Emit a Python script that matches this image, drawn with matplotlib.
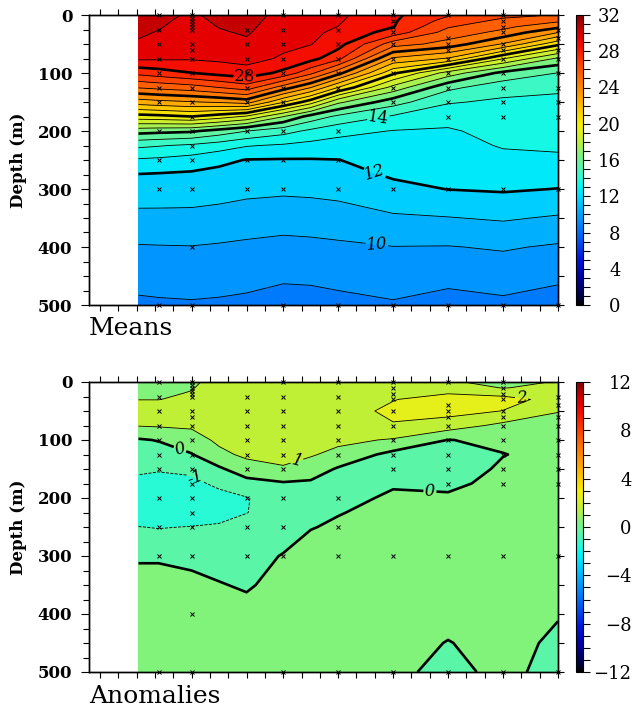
import numpy as np
import matplotlib
matplotlib.use("Agg")
import matplotlib.pyplot as plt
from matplotlib.colors import LinearSegmentedColormap, Normalize
from matplotlib.ticker import MultipleLocator, NullFormatter

plt.rcParams.update({
    "font.family": "DejaVu Serif",
    "axes.linewidth": 1.0,
})

# grid: x positions of the gridded columns and standard depths (m)
x_cols = [2.1, 3.2, 5, 6.5, 8, 10, 11.5, 13, 16, 19, 22, 25]
depths = [0, 10, 20, 30, 50, 75, 100, 125, 150, 175, 200, 225, 250, 275, 300, 350, 400, 450, 500]

# mean temperature profiles, one list per column (values at `depths`)
mean_cols = [
    [30.3, 30.24, 30.17, 30.11, 29.91, 29.18, 27.29, 25.07, 22.51, 19.61, 16.39, 14.20, 12.88, 11.97, 11.55, 10.72, 9.93, 9.37, 8.81],
    [30.2, 30.13, 30.06, 29.96, 29.6, 29.15, 27.55, 25.27, 22.71, 19.72, 16.28, 14.07, 12.8, 11.92, 11.52, 10.73, 9.95, 9.40, 8.86],
    [29.9, 29.8, 29.7, 29.6, 29.37, 29.1, 27.98, 25.56, 22.94, 20.0, 16.15, 13.83, 12.58, 11.84, 11.48, 10.73, 9.97, 9.44, 8.9],
    [30.2, 30.12, 30.03, 29.91, 29.59, 29.2, 28.33, 26.0, 23.14, 19.5, 15.6, 13.5, 12.23, 11.73, 11.38, 10.65, 9.90, 9.38, 8.86],
    [30.4, 30.3, 30.2, 30.1, 29.82, 29.33, 28.6, 26.51, 23.45, 18.86, 15.02, 13.07, 11.96, 11.61, 11.26, 10.51, 9.82, 9.31, 8.78],
    [29.7, 29.6, 29.5, 29.41, 29.21, 28.88, 27.74, 24.52, 21.10, 17.04, 14.38, 12.87, 11.93, 11.56, 11.19, 10.41, 9.72, 9.15, 8.59],
    [29.45, 29.37, 29.29, 29.2, 29.04, 28.35, 26.25, 23.03, 19.48, 15.62, 13.79, 12.68, 11.94, 11.59, 11.23, 10.46, 9.76, 9.18, 8.62],
    [29.2, 29.1, 28.99, 28.8, 28.39, 27.29, 24.35, 20.97, 17.23, 14.79, 13.33, 12.58, 11.98, 11.65, 11.31, 10.56, 9.83, 9.28, 8.72],
    [28.2, 28.12, 28.05, 27.58, 25.47, 22.84, 20.21, 17.64, 15.44, 13.88, 12.96, 12.68, 12.4, 12.12, 11.75, 10.86, 9.98, 9.45, 8.9],
    [27.1, 26.63, 26.1, 25.6, 24.62, 21.91, 17.57, 15.24, 14.09, 13.36, 12.89, 12.68, 12.46, 12.24, 12.02, 10.96, 9.96, 9.26, 8.66],
    [26.3, 25.75, 25.25, 24.72, 22.92, 19.08, 15.72, 14.4, 13.83, 13.58, 13.32, 13.07, 12.76, 12.43, 12.11, 11.11, 10.1, 9.42, 8.8],
    [25.95, 25.17, 24.27, 23.03, 20.28, 16.83, 14.98, 14.14, 13.81, 13.59, 13.37, 13.14, 12.84, 12.41, 11.98, 10.89, 9.88, 9.18, 8.59],
]

# temperature anomaly profiles, one list per column
anom_cols = [
    [0.8, 0.87, 0.93, 0.99, 1.25, 1.05, -0.1, -0.5, -0.8, -1.3, -1.8, -1.7, -0.98, -0.6, -0.1, 0.3, 0.4, 0.4, 0.4],
    [0.85, 0.9, 0.95, 0.99, 1.25, 1.1, 0.05, -0.45, -0.9, -1.4, -1.9, -1.8, -1.05, -0.6, -0.1, 0.3, 0.4, 0.4, 0.4],
    [0.95, 0.98, 1.02, 1.1, 1.3, 1.15, 0.55, -0.05, -0.75, -1.3, -1.7, -1.6, -0.97, -0.5, -0.25, 0.25, 0.4, 0.4, 0.4],
    [1.1, 1.15, 1.2, 1.25, 1.35, 1.3, 1.2, 0.75, -0.15, -0.75, -1.4, -1.3, -0.9, -0.6, -0.35, 0.05, 0.4, 0.45, 0.4],
    [1.3, 1.35, 1.4, 1.45, 1.5, 1.5, 1.4, 1.2, 0.55, -0.35, -1.05, -1.02, -0.7, -0.5, -0.35, -0.1, 0.3, 0.4, 0.4],
    [1.5, 1.55, 1.6, 1.6, 1.6, 1.6, 1.5, 1.3, 0.9, -0.1, -0.5, -0.6, -0.55, -0.2, 0.05, 0.3, 0.4, 0.4, 0.4],
    [1.55, 1.6, 1.6, 1.6, 1.6, 1.6, 1.4, 1.1, 0.5, -0.15, -0.35, -0.3, -0.05, 0.2, 0.3, 0.35, 0.4, 0.4, 0.4],
    [1.5, 1.6, 1.65, 1.7, 1.7, 1.6, 1.25, 0.7, -0.1, -0.35, -0.3, -0.05, 0.15, 0.3, 0.35, 0.35, 0.4, 0.4, 0.4],
    [1.6, 1.7, 1.85, 1.97, 2.15, 1.95, 0.9, -0.3, -0.35, -0.1, 0.15, 0.3, 0.35, 0.35, 0.35, 0.35, 0.35, 0.3, 0.2],
    [1.06, 1.65, 1.99, 2.3, 2.35, 1.5, -0.02, -0.3, -0.35, -0.15, 0.1, 0.25, 0.3, 0.3, 0.3, 0.3, 0.25, -0.03, -0.25],
    [0.85, 0.95, 1.75, 2.3, 1.98, 0.75, 0.15, -0.02, 0.1, 0.2, 0.3, 0.3, 0.3, 0.3, 0.3, 0.3, 0.3, 0.28, 0.23],
    [1.03, 1.35, 1.6, 1.7, 1.05, 0.55, 0.3, 0.2, 0.25, 0.3, 0.3, 0.3, 0.3, 0.3, 0.3, 0.25, 0.05, -0.15, -0.3],
]

# observation stations and the depths sampled at each
stations = [3.2, 5, 8, 10, 13, 16, 19, 22, 25]
station_depths = [
    [0, 25, 50, 75, 100, 125, 150, 200, 250, 300, 500],
    [0, 5, 10, 15, 20, 25, 50, 60, 75, 100, 125, 150, 175, 200, 225, 250, 300, 400, 500],
    [25, 50, 75, 100, 125, 150, 200, 250, 300],
    [0, 25, 50, 75, 100, 125, 150, 200, 250, 300, 500],
    [0, 25, 50, 75, 100, 125, 200, 250, 300, 500],
    [0, 10, 20, 30, 50, 75, 100, 125, 150, 300, 500],
    [0, 40, 50, 60, 75, 100, 125, 150, 175, 300, 500],
    [0, 10, 20, 30, 50, 60, 75, 100, 125, 150, 175, 300, 500],
    [25, 40, 60, 75, 100, 125, 150, 175, 300, 500],
]

# contour labels: level -> label positions (x, depth)
mean_labels = {28: [(7.9, 109)], 14: [(15.2, 178)], 12: [(15.0, 272)], 10: [(15.1, 400)]}
anom_labels = {0: [(4.4, 112), (18.0, 195)], 1: [(10.8, 143)], -1: [(5.1, 172)], 2: [(23.0, 30)]}

# colour table, Ferret-like (positions on a 0..32 scale)
cmap_nodes = [
    (0, (0, 0, 0)), (1, (0, 0, 70)), (3, (0, 0, 160)), (5, (0, 20, 220)),
    (7, (0, 80, 245)), (9, (0, 135, 255)), (10.5, (0, 175, 255)), (12, (0, 220, 255)),
    (13, (0, 245, 245)), (14, (40, 250, 215)), (15.3, (90, 245, 170)), (16.7, (130, 242, 120)),
    (18, (190, 240, 55)), (19.3, (228, 240, 28)), (20, (245, 240, 0)), (21.5, (255, 200, 0)),
    (23, (255, 160, 0)), (25, (255, 110, 0)), (27, (255, 55, 0)), (28.5, (245, 15, 0)),
    (29.5, (230, 0, 0)), (30.5, (200, 0, 0)), (32, (130, 0, 0)),
]
cmap = LinearSegmentedColormap.from_list(
    "ferret", [(v / 32, tuple(c / 255 for c in rgb)) for v, rgb in cmap_nodes], N=512)

W, H = 639, 707
fig = plt.figure(figsize=(W / 100, H / 100), dpi=100)

X, Z = np.meshgrid(x_cols, depths)
mean_T = np.array(mean_cols).T
anom_T = np.array(anom_cols).T


def draw_lines(ax, field, levels, labels, style, italic):
    # each level drawn on its own so that clabel works per level
    for lev in levels:
        lw, ls = style(lev)
        cs = ax.contour(X, Z, field, levels=[lev], colors="black", linewidths=lw, linestyles=ls)
        if lev in labels:
            txt = cs.clabel([lev], manual=labels[lev], fmt="%d", fontsize=12, inline=True,
                            inline_spacing=2)
            for t in txt:
                if italic(lev):
                    t.set_fontstyle("italic")


def frame(ax):
    ax.set_xlim(-0.6, 25)
    ax.set_ylim(500, 0)
    ax.set_xticks(np.arange(0, 26, 1))
    ax.xaxis.set_major_formatter(NullFormatter())
    ax.tick_params(axis="x", top=True, bottom=True, direction="out", length=4, width=0.8)
    ax.set_yticks(np.arange(0, 501, 100))
    ax.yaxis.set_minor_locator(MultipleLocator(25))
    ax.tick_params(axis="y", which="major", direction="out", length=6, width=0.8, pad=6,
                   labelsize=12)
    ax.tick_params(axis="y", which="minor", direction="out", length=4, width=0.8)
    for lab in ax.get_yticklabels():
        lab.set_fontweight("bold")
    ax.set_ylabel("Depth (m)", fontsize=12, fontweight="bold", labelpad=8)
    right = ax.twinx()
    right.set_ylim(500, 0)
    right.set_yticks(np.arange(0, 501, 50))
    right.yaxis.set_major_formatter(NullFormatter())
    right.tick_params(direction="out", length=4, width=0.8)
    for sx, sd in zip(stations, station_depths):
        ax.plot([sx] * len(sd), sd, ls="none", marker="x", ms=3.5, mew=0.7,
                color="black", clip_on=False, zorder=5)


def colorbar(ax_rect, vmin, vmax, pad):
    cax = fig.add_axes(ax_rect)
    sm = plt.cm.ScalarMappable(norm=Normalize(vmin, vmax), cmap=cmap)
    cb = fig.colorbar(sm, cax=cax, ticks=np.arange(vmin, vmax + 1, 4))
    cb.outline.set_linewidth(0.8)
    cax.yaxis.set_minor_locator(MultipleLocator(1))
    cax.tick_params(which="both", direction="out", length=5, width=0.8, labelsize=13, pad=pad)
    cax.set_yticklabels([f"{int(v)}".replace("-", "\u2212") for v in np.arange(vmin, vmax + 1, 4)],
                        ha="right")
    return cb


left = 89 / W
width = (558 - 89) / W
height = 290 / H

# ---------- Means ----------
ax1 = fig.add_axes([left, 1 - 305 / H, width, height])
ax1.contourf(X, Z, mean_T, levels=np.arange(0, 33, 1), cmap=cmap, vmin=0, vmax=32)
draw_lines(ax1, mean_T, range(1, 32), mean_labels,
           lambda v: (1.9 if v % 4 == 0 else 0.6, "solid"),
           lambda v: v in (10, 12))
frame(ax1)
colorbar([576 / W, 1 - 305 / H, 7 / W, height], 0, 32, 22)
fig.text(89 / W, 1 - 335 / H, "Means", fontsize=18, ha="left", va="baseline")

# ---------- Anomalies ----------
ax2 = fig.add_axes([left, 1 - 672 / H, width, height])
ax2.contourf(X, Z, anom_T, levels=np.arange(-12, 13, 1), cmap=cmap, vmin=-12, vmax=12)
draw_lines(ax2, anom_T, [-2, -1, 0, 1, 2, 3], anom_labels,
           lambda v: (1.9 if v == 0 else 0.6, "dashed" if v < 0 else "solid"),
           lambda v: True)
frame(ax2)
colorbar([576 / W, 1 - 672 / H, 7 / W, height], -12, 12, 30)
fig.text(89 / W, 1 - 703 / H, "Anomalies", fontsize=18, ha="left", va="baseline")

fig.savefig("out.png", dpi=100)
